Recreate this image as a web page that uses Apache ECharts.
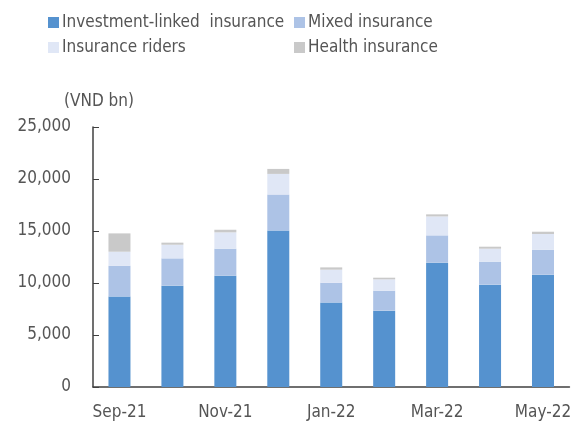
<!DOCTYPE html>
<html>
<head>
<meta charset="utf-8">
<script src="https://cdn.jsdelivr.net/npm/echarts@6/dist/echarts.min.js"></script>
<style>
  html, body { margin: 0; padding: 0; background: #fff; }
  #chart { width: 574px; height: 421px; }
</style>
</head>
<body>
<div id="chart"></div>
<script>
const months = ['Sep-21', 'Oct-21', 'Nov-21', 'Dec-21', 'Jan-22', 'Feb-22', 'Mar-22', 'Apr-22', 'May-22'];
const investLinked = [8700, 9740, 10700, 15050, 8130, 7340, 11950, 9840, 10800];
const mixed = [2960, 2630, 2600, 3460, 1900, 1920, 2630, 2210, 2400];
const riders = [1350, 1310, 1570, 1980, 1250, 1090, 1820, 1250, 1510];
const health = [1760, 200, 250, 480, 220, 160, 200, 190, 220];

const names = ['Investment-linked  insurance', 'Mixed insurance', 'Insurance riders', 'Health insurance'];
const colors = ['#5592cf', '#adc3e6', '#e0e7f6', '#c9c9c9'];
const font = "Tahoma, 'DejaVu Sans Condensed', 'Liberation Sans', sans-serif";
const textColor = '#555555';

function legendAt(name, left, top) {
  return {
    data: [name],
    left: left,
    top: top,
    icon: 'rect',
    itemWidth: 11,
    itemHeight: 11,
    padding: 0,
    textStyle: { fontFamily: font, fontSize: 17, color: textColor, padding: [0, 0, 0, -2] }
  }
}

function gen_series() {
  var data = [investLinked, mixed, riders, health];
  var ret = [];
  for (var i = 0; i < data.length; i++) {
    ret.push({
      name: names[i],
      type: 'bar',
      stack: 'total',
      barWidth: 22,
      itemStyle: { color: colors[i] },
      data: data[i]
    });
  }
  return ret
}

const chart = echarts.init(document.getElementById('chart'));
chart.setOption({
  animation: false,
  textStyle: { fontFamily: font },
  legend: [
    legendAt(names[0], 48, 14),
    legendAt(names[1], 294, 14),
    legendAt(names[2], 48, 39),
    legendAt(names[3], 294, 39)
  ],
  grid: {
    left: 93,
    right: 2,
    top: 127,
    bottom: 33,
    containLabel: false
  },
  xAxis: {
    type: 'category',
    data: months,
    axisLine: { lineStyle: { color: '#404040', width: 1.5 } },
    axisTick: { inside: true, length: 6, interval: 1, lineStyle: { color: '#404040' } },
    axisLabel: { interval: 1, fontFamily: font, fontSize: 17, color: textColor, margin: 17 }
  },
  yAxis: {
    type: 'value',
    min: 0,
    max: 25000,
    interval: 5000,
    name: '(VND bn)',
    nameLocation: 'end',
    nameGap: 17,
    nameTextStyle: { fontFamily: font, fontSize: 17, color: textColor, align: 'right', padding: [0, -41, 0, 0] },
    splitLine: { show: false },
    axisLine: { show: true, lineStyle: { color: '#404040', width: 1.5 } },
    axisTick: { show: true, inside: true, length: 6, lineStyle: { color: '#404040' } },
    axisLabel: {
      fontFamily: font,
      fontSize: 17,
      color: textColor,
      margin: 22,
      formatter: function (v) { return v.toLocaleString('en-US'); }
    }
  },
  series: gen_series()
});
</script>
</body>
</html>
